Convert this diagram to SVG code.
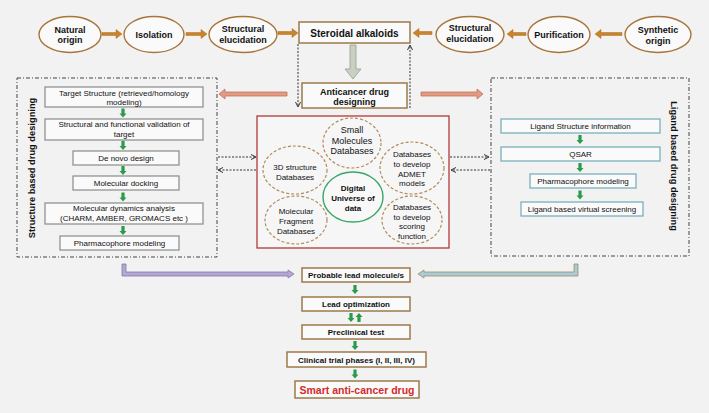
<svg xmlns="http://www.w3.org/2000/svg" width="709" height="413" viewBox="0 0 709 413">
<defs>
<style>
text{font-family:"Liberation Sans",Arial,sans-serif;fill:#111;text-anchor:middle}
.b{font-weight:bold}
.t8{font-size:8px}
.t9{font-size:9px}
.oval{fill:#fafafa;stroke:#a8743a;stroke-width:1.4}
.brown{fill:#fafafa;stroke:#9c7a4a;stroke-width:1.5}
.gbox{fill:#fafafa;stroke:#8a8a8a;stroke-width:1.2}
.tbox{fill:#fafafa;stroke:#6fa9b8;stroke-width:1.2}
.dbox{fill:none;stroke:#444;stroke-width:1;stroke-dasharray:4 2 1 2}
.dell{fill:none;stroke:#b08c5c;stroke-width:1.2;stroke-dasharray:3 2}
.oarr{fill:#c8832c;stroke:#b06f20;stroke-width:0.5}
.sarr{fill:#e29a82;stroke:#c0735e;stroke-width:0.8}
.dash{fill:none;stroke:#333;stroke-width:1;stroke-dasharray:2 1.5}
.garr{fill:#2c9a4c}
</style>
<marker id="ah" markerWidth="7" markerHeight="7" refX="5.5" refY="3" orient="auto" markerUnits="userSpaceOnUse">
<path d="M0.5,0.5 L5.5,3 L0.5,5.5" fill="none" stroke="#333" stroke-width="1"/>
</marker>
<path id="gd" class="garr" d="M-1.6,0 L1.6,0 L1.6,5 L3.5,5 L0,9 L-3.5,5 L-1.6,5 Z"/>
<path id="gu" class="garr" d="M-1.6,9 L1.6,9 L1.6,4 L3.5,4 L0,0 L-3.5,4 L-1.6,4 Z"/>
</defs>
<rect width="709" height="413" fill="#f2f2f2"/>

<!-- top row -->
<g id="natural-origin"><ellipse class="oval" cx="70" cy="34.5" rx="31" ry="18"/><text class="b t9" x="70" y="32.5">Natural</text><text class="b t9" x="70" y="43">origin</text></g>
<g id="isolation"><ellipse class="oval" cx="154" cy="34.5" rx="30" ry="18"/><text class="b t9" x="154" y="37.5">Isolation</text></g>
<g id="struct-elucidation-left"><ellipse class="oval" cx="243" cy="34.5" rx="34" ry="18"/><text class="b t9" x="243" y="31.5">Structural</text><text class="b t9" x="243" y="42.5">elucidation</text></g>
<g id="steroidal-alkaloids"><rect class="brown" x="299" y="22" width="111" height="21"/><text class="b" style="font-size:10px" x="354.5" y="36.5">Steroidal alkaloids</text></g>
<g id="struct-elucidation-right"><ellipse class="oval" cx="470" cy="34.5" rx="34" ry="18"/><text class="b t9" x="470" y="31">Structural</text><text class="b t9" x="470" y="42">elucidation</text></g>
<g id="purification"><ellipse class="oval" cx="559" cy="34.5" rx="31" ry="18"/><text class="b t9" x="559" y="38">Purification</text></g>
<g id="synthetic-origin"><ellipse class="oval" cx="658" cy="34.5" rx="33" ry="18"/><text class="b t9" x="658" y="33">Synthetic</text><text class="b t9" x="658" y="43.5">origin</text></g>

<g id="anticancer-drug-designing"><rect class="brown" x="302" y="83" width="105" height="25"/><text class="b t9" x="354.5" y="94.5">Anticancer drug</text><text class="b t9" x="354.5" y="105">designing</text></g>

<!-- structure based -->
<g id="structure-based">
<rect class="dbox" x="17" y="78" width="200" height="179"/>
<text class="b" style="font-size:9.3px" transform="translate(34.5,168) rotate(-90)">Structure based drug designing</text>
</g>
<g id="target-structure"><rect class="gbox" x="45" y="87" width="158" height="20"/><text class="t8" x="124" y="95.5">Target Structure (retrieved/homology</text><text class="t8" x="124" y="105">modeling)</text></g>
<g id="validation"><rect class="gbox" x="45" y="119" width="158" height="21"/><text class="t8" x="124" y="127">Structural and functional validation of</text><text class="t8" x="124" y="137">target</text></g>
<g id="de-novo"><rect class="gbox" x="73" y="151" width="106" height="14"/><text class="t8" x="126" y="161">De novo design</text></g>
<g id="docking"><rect class="gbox" x="73" y="176" width="106" height="14"/><text class="t8" x="126" y="186">Molecular docking</text></g>
<g id="dynamics"><rect class="gbox" x="45" y="203" width="158" height="21"/><text class="t8" x="124" y="210.5">Molecular dynamics analysis</text><text class="t8" x="124" y="220.5">(CHARM, AMBER, GROMACS etc )</text></g>
<g id="pharmacophore-left"><rect class="gbox" x="60" y="236" width="119" height="14"/><text class="t8" x="119.5" y="246">Pharmacophore modeling</text></g>

<!-- ligand based -->
<g id="ligand-based">
<rect class="dbox" x="491" y="78" width="198" height="178"/>
<text class="b" style="font-size:9.3px" transform="translate(671,166) rotate(90)">Ligand based drug designing</text>
</g>
<g id="ligand-info"><rect class="tbox" x="501" y="119" width="159" height="14"/><text class="t8" x="580.5" y="129">Ligand Structure information</text></g>
<g id="qsar"><rect class="tbox" x="501" y="147" width="159" height="14"/><text class="t8" x="580.5" y="157">QSAR</text></g>
<g id="pharmacophore-right"><rect class="tbox" x="530" y="174" width="106" height="14"/><text class="t8" x="583" y="184">Pharmacophore modeling</text></g>
<g id="virtual-screening"><rect class="tbox" x="521" y="202" width="122" height="14"/><text class="t8" x="582" y="212">Ligand based virtual screening</text></g>

<!-- digital universe -->
<g id="digital-universe-box"><rect x="257" y="116" width="192" height="132" fill="#f6f6f6" stroke="#b03a3a" stroke-width="1.3"/></g>
<g id="small-molecules"><ellipse class="dell" cx="352" cy="143" rx="29" ry="25"/><text class="t9" x="352" y="133">Small</text><text class="t9" x="352" y="144">Molecules</text><text class="t9" x="352" y="154">Databases</text></g>
<g id="3d-structure"><ellipse class="dell" cx="295" cy="170" rx="32" ry="24"/><text class="t8" x="295" y="169.5">3D structure</text><text class="t8" x="295" y="179.5">Databases</text></g>
<g id="admet"><ellipse class="dell" cx="412" cy="168" rx="32" ry="26"/><text class="t8" x="412" y="157">Databases</text><text class="t8" x="412" y="167">to develop</text><text class="t8" x="412" y="176.5">ADMET</text><text class="t8" x="412" y="186">models</text></g>
<g id="fragment"><ellipse class="dell" cx="296" cy="220" rx="31" ry="24"/><text class="t8" x="296" y="214">Molecular</text><text class="t8" x="296" y="224">Fragment</text><text class="t8" x="296" y="233.5">Databases</text></g>
<g id="scoring"><ellipse class="dell" cx="412" cy="220" rx="30" ry="24"/><text class="t8" x="412" y="209.5">Databases</text><text class="t8" x="412" y="219.5">to develop</text><text class="t8" x="412" y="229">scoring</text><text class="t8" x="412" y="238.5">function</text></g>
<g id="digital-universe"><ellipse cx="353" cy="197" rx="30" ry="25" fill="#f8f8f8" stroke="#3aa66a" stroke-width="1.4"/><text class="b t8" x="353" y="191">Digital</text><text class="b t8" x="353" y="201">Universe of</text><text class="b t8" x="353" y="210.5">data</text></g>

<!-- bottom flow -->
<g id="probable-lead"><rect class="brown" x="302" y="268" width="108" height="14"/><text class="b t8" x="356" y="278">Probable lead molecule/s</text></g>
<g id="lead-optimization"><rect class="brown" x="302" y="297" width="108" height="14"/><text class="b t8" x="356" y="307">Lead optimization</text></g>
<g id="preclinical"><rect class="brown" x="302" y="325" width="108" height="14"/><text class="b t8" x="356" y="335">Preclinical test</text></g>
<g id="clinical"><rect class="brown" x="287" y="352" width="139" height="15"/><text class="b t8" x="356.5" y="362.5">Clinical trial phases  (I, II, III, IV)</text></g>
<g id="smart-drug"><rect class="brown" x="295" y="381" width="124" height="17"/><text class="b" style="font-size:10.5px;fill:#d42a2a" x="357" y="393.5">Smart anti-cancer drug</text></g>

<!-- connectors -->
<g id="connectors">
<!-- orange top arrows -->
<polygon class="oarr" points="102,32.5 116,32.5 116,29.5 122,34 116,38.5 116,35.5 102,35.5"/>
<polygon class="oarr" points="186,32.5 201,32.5 201,29.5 207,34 201,38.5 201,35.5 186,35.5"/>
<polygon class="oarr" points="278,31.5 292,31.5 292,28.5 298,33 292,37.5 292,34.5 278,34.5"/>
<polygon class="oarr" points="432,31.5 419,31.5 419,28.5 413,33 419,37.5 419,34.5 432,34.5"/>
<polygon class="oarr" points="526,32.5 513,32.5 513,29.5 507,34 513,38.5 513,35.5 526,35.5"/>
<polygon class="oarr" points="622,32.5 601,32.5 601,29.5 595,34 601,38.5 601,35.5 622,35.5"/>
<!-- gray down arrow -->
<polygon points="350,45 356,45 356,69 361,69 353,79 345,69 350,69" fill="#c9d0c2" stroke="#98a08e" stroke-width="0.8"/>
<!-- dashed from steroidal -->
<line class="dash" x1="298" y1="44" x2="298" y2="107" marker-end="url(#ah)"/>
<line class="dash" x1="410" y1="108" x2="410" y2="45" marker-end="url(#ah)"/>
<!-- salmon arrows -->
<polygon class="sarr" points="287,92 225,92 225,89 219,94 225,99 225,96 287,96"/>
<polygon class="sarr" points="421,92 477,92 477,89 483,94 477,99 477,96 421,96"/>
<!-- dashed horizontals -->
<line class="dash" x1="218" y1="157" x2="256" y2="157" marker-end="url(#ah)"/>
<line class="dash" x1="256" y1="170" x2="218" y2="170" marker-end="url(#ah)"/>
<line class="dash" x1="450" y1="157" x2="489" y2="157" marker-end="url(#ah)"/>
<line class="dash" x1="490" y1="170" x2="451" y2="170" marker-end="url(#ah)"/>
<!-- green arrows left -->
<use href="#gd" x="123" y="108.5"/>
<use href="#gd" x="123" y="141"/>
<use href="#gd" x="123" y="166"/>
<use href="#gd" x="123" y="192.5"/>
<use href="#gd" x="123" y="226"/>
<!-- green arrows right -->
<use href="#gd" x="580" y="135"/>
<use href="#gd" x="580" y="163"/>
<use href="#gd" x="580" y="190.5"/>
<!-- green arrows bottom -->
<use href="#gd" x="355" y="285"/>
<use href="#gd" x="351" y="313"/>
<use href="#gu" x="359" y="313"/>
<use href="#gd" x="355" y="341"/>
<use href="#gd" x="355" y="369.5"/>
<!-- L arrows -->
<polygon points="122,264 126,264 126,272 288,272 288,270 294,274 288,278 288,276 122,276" fill="#b3a7d3" stroke="#8577a8" stroke-width="0.8"/>
<polygon points="574,264 578,264 578,276 424,276 424,278 418,274 424,270 424,272 574,272" fill="#a9cbd9" stroke="#a08a66" stroke-width="0.8"/>
</g>
</svg>
